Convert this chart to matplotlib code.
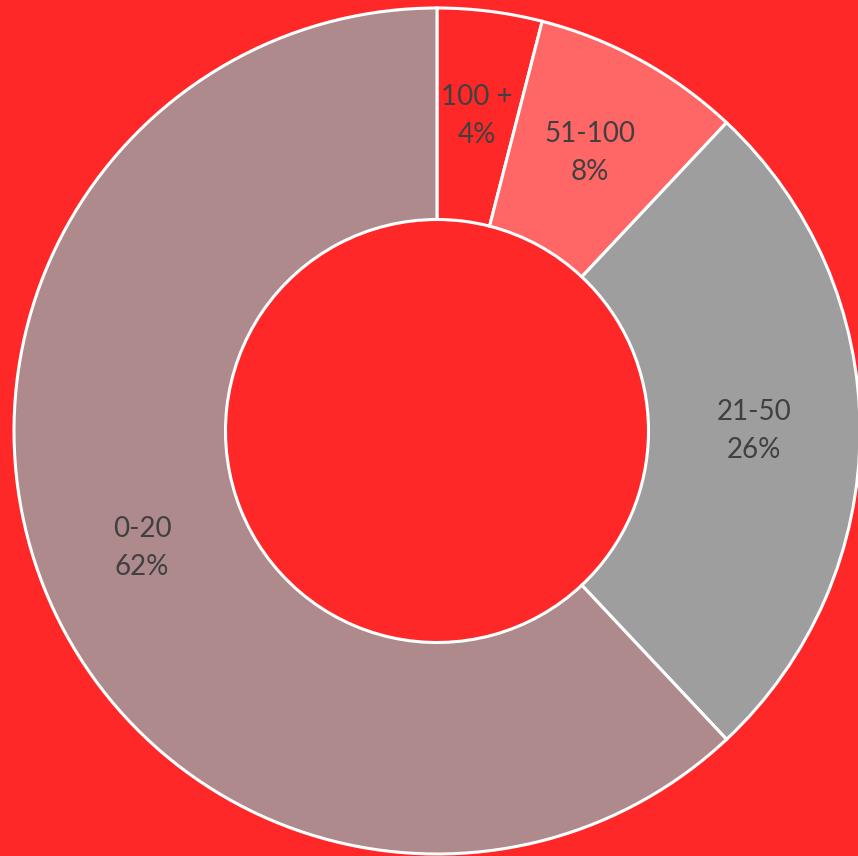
import matplotlib.pyplot as plt

labels = ['100 +', '51-100', '21-50', '0-20']
values = [4, 8, 26, 62]
colors = ['#FF2828', '#FF6666', '#9E9E9E', '#AE8A8C']
bg = '#FF2828'

fig = plt.figure(figsize=(8.58, 8.56), dpi=100, facecolor=bg)
# center at (437, 431) px from top-left, outer radius 423 px
ax = fig.add_axes([(437 - 423) / 858, (856 - 431 - 423) / 856, 846 / 858, 846 / 856])
ax.set_facecolor(bg)

lab_iter = iter(labels)


def fmt(p):
    return '%s\n%.0f%%' % (next(lab_iter), p)


wedges, texts, autotexts = ax.pie(values, colors=colors, startangle=90, counterclock=False,
                                  radius=1, autopct=fmt, pctdistance=0.75,
                                  wedgeprops=dict(width=0.5, edgecolor='white', linewidth=2.2),
                                  textprops=dict(color='#404040', fontsize=20, family='Lato'))
for t in autotexts:
    t.set_linespacing(1.55)

ax.set_xlim(-1, 1)
ax.set_ylim(-1, 1)
ax.axis('off')

fig.savefig('out.png', dpi=100, facecolor=bg)
